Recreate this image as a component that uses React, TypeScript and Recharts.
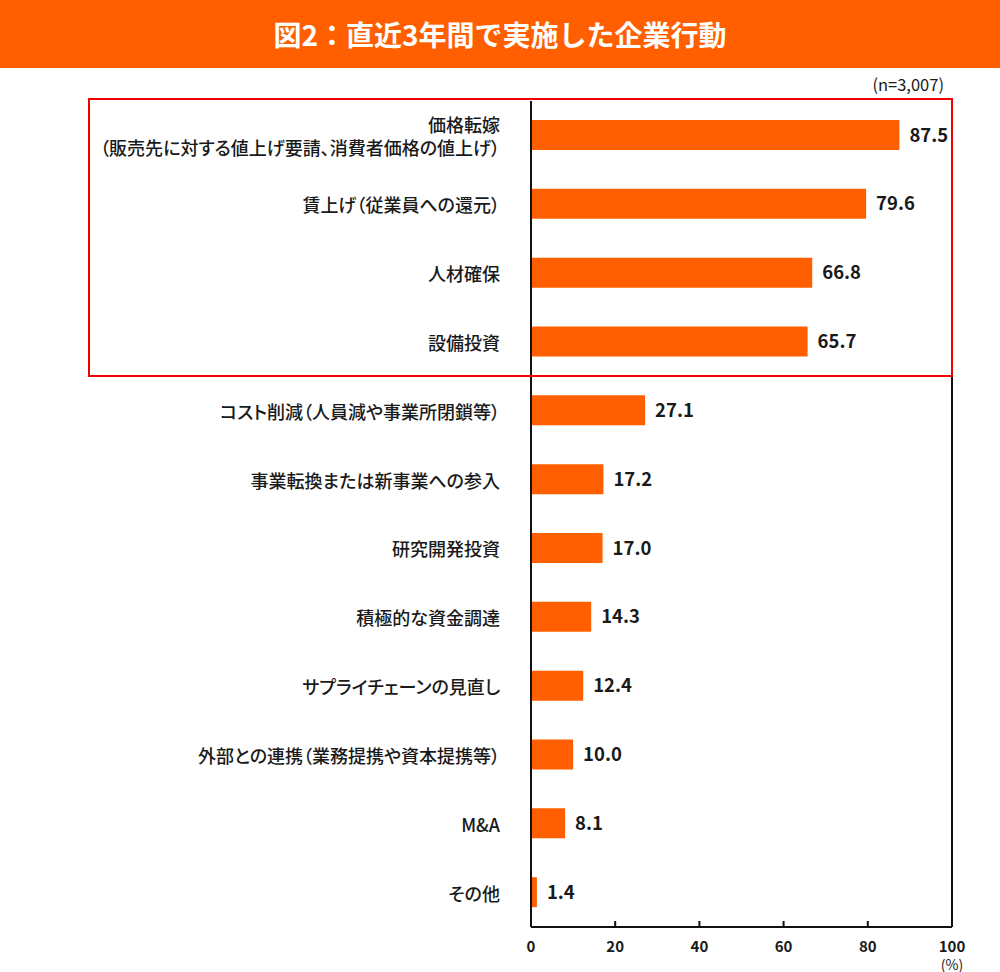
import { BarChart, Bar, XAxis, YAxis, LabelList, ReferenceLine } from 'recharts'

const categories = [
  '価格転嫁\n（販売先に対する値上げ要請、消費者価格の値上げ）',
  '賃上げ（従業員への還元）',
  '人材確保',
  '設備投資',
  'コスト削減（人員減や事業所閉鎖等）',
  '事業転換または新事業への参入',
  '研究開発投資',
  '積極的な資金調達',
  'サプライチェーンの見直し',
  '外部との連携（業務提携や資本提携等）',
  'M&A',
  'その他'
]

const values = [87.5, 79.6, 66.8, 65.7, 27.1, 17.2, 17.0, 14.3, 12.4, 10.0, 8.1, 1.4]

const xTicks = [0, 20, 40, 60, 80, 100]

const ORANGE = '#ff5f00'
const FONT = '"Noto Sans CJK JP", "Noto Sans", sans-serif'

const data = categories.map((name, i) => ({ name, value: values[i] }))

// category label, right aligned, may have two lines
function CategoryTick(props: any) {
  const { x, y, payload } = props
  const lines = String(payload.value).split('\n')
  const lh = 22.5
  const start = -((lines.length - 1) * lh) / 2
  return (
    <g>
      {lines.map((line, i) => (
        <text
          key={i}
          x={x - 31}
          y={y + start + i * lh}
          textAnchor="end"
          dominantBaseline="central"
          fontSize={18}
          fontWeight={500}
          fill="#1a1a1a"
          fontFamily={FONT}
          style={{ fontFeatureSettings: '"palt"' }}
        >
          {line}
        </text>
      ))}
    </g>
  )
}

// inward tick mark plus label below the axis
function PercentTick(props: any) {
  const { x, y, payload } = props
  return (
    <g>
      <line x1={x} x2={x} y1={y} y2={y - 6} stroke="#111" strokeWidth={2} />
      <text x={x} y={y + 18} textAnchor="middle" dominantBaseline="central" fontSize={15} fontWeight={700} fill="#1a1a1a" fontFamily={FONT}>
        {payload.value}
      </text>
      {payload.value === 100 && (
        <text x={x} y={y + 37} textAnchor="middle" dominantBaseline="central" fontSize={14} fill="#1a1a1a" fontFamily={FONT}>
          (%)
        </text>
      )}
    </g>
  )
}

export default function App() {
  return (
    <div style={{ position: 'absolute', left: 0, top: 0, width: 1000, height: 972, background: '#fff', fontFamily: FONT }}>
      <div
        style={{
          height: 68,
          background: ORANGE,
          color: '#fff',
          fontSize: 28,
          fontWeight: 700,
          textAlign: 'center',
          lineHeight: '68px'
        }}
      >
        図2：直近3年間で実施した企業行動
      </div>
      <div style={{ position: 'absolute', right: 56, top: 73, fontSize: 16.5, color: '#1a1a1a', lineHeight: '22px' }}>(n=3,007)</div>

      <BarChart
        width={1000}
        height={972}
        data={data}
        layout="vertical"
        margin={{ top: 101, right: 48, bottom: 0, left: 0 }}
        style={{ position: 'absolute', left: 0, top: 0, overflow: 'visible' }}
      >
        <XAxis
          type="number"
          domain={[0, 100]}
          ticks={xTicks}
          height={45}
          tickSize={0}
          tickMargin={0}
          tickLine={false}
          axisLine={{ stroke: '#111', strokeWidth: 2 }}
          tick={<PercentTick />}
          interval={0}
        />
        <YAxis
          type="category"
          dataKey="name"
          width={531}
          tickLine={false}
          tickSize={0}
          tickMargin={0}
          axisLine={{ stroke: '#111', strokeWidth: 2 }}
          tick={<CategoryTick />}
          interval={0}
        />
        <ReferenceLine x={100} stroke="#111" strokeWidth={2} />
        <Bar dataKey="value" fill={ORANGE} barSize={30} isAnimationActive={false}>
          <LabelList
            dataKey="value"
            position="right"
            offset={10}
            formatter={(v: any) => Number(v).toFixed(1)}
            style={{ fontSize: 18.5, fontWeight: 700, fill: '#1a1a1a', fontFamily: FONT }}
          />
        </Bar>
      </BarChart>

      {/* highlight box round the first four items */}
      <div
        style={{
          position: 'absolute',
          left: 88,
          top: 98,
          width: 865,
          height: 279,
          boxSizing: 'border-box',
          border: '2px solid #f00000',
          pointerEvents: 'none'
        }}
      />
    </div>
  )
}
